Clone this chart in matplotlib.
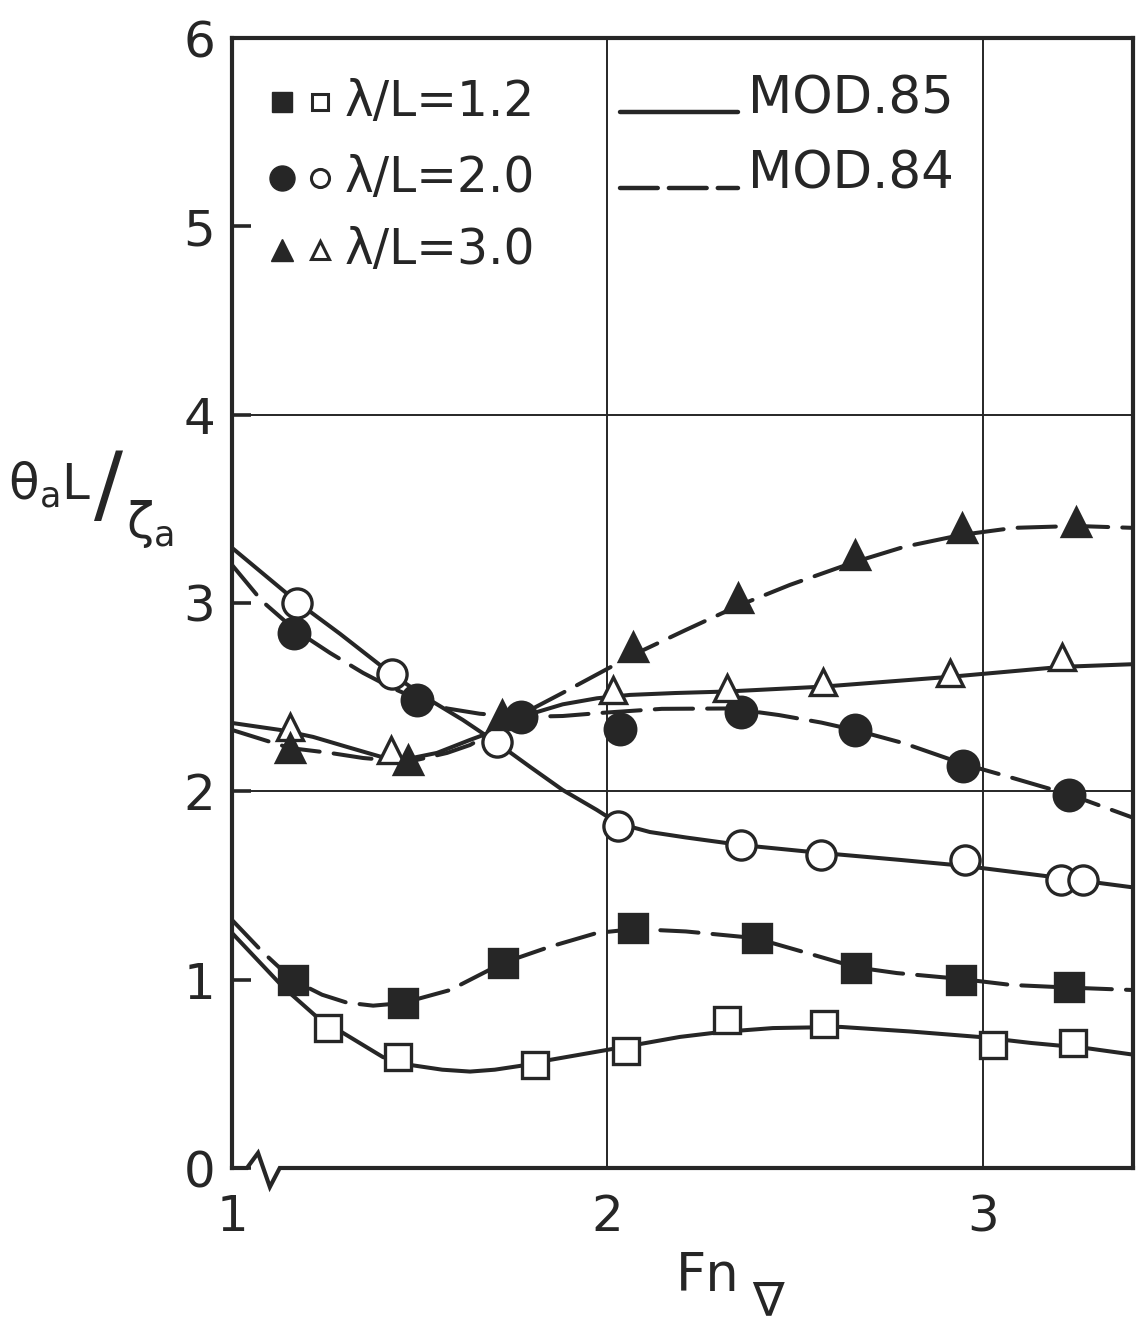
import numpy as np
import matplotlib
matplotlib.use('Agg')
from matplotlib import pyplot as plt

plt.rcParams['font.family'] = ['DejaVu Sans']
plt.rcParams['mathtext.fontset'] = 'dejavusans'

# ---- faired curves ----
# lambda/L = 1.2
c12_85_x = [1.0, 1.136, 1.226, 1.296, 1.402, 1.482, 1.560, 1.634, 1.700, 1.767, 1.847, 1.999, 2.193, 2.302, 2.441, 2.622, 2.806, 2.989, 3.128, 3.274, 3.40]
c12_85_y = [1.248, 0.961, 0.802, 0.717, 0.589, 0.545, 0.522, 0.512, 0.522, 0.542, 0.574, 0.627, 0.696, 0.722, 0.743, 0.749, 0.725, 0.696, 0.664, 0.637, 0.602]
c12_84_x = [1.0, 1.080, 1.162, 1.240, 1.306, 1.376, 1.455, 1.581, 1.722, 1.847, 1.972, 2.073, 2.209, 2.393, 2.531, 2.664, 2.771, 2.941, 3.075, 3.229, 3.40]
c12_84_y = [1.317, 1.150, 0.998, 0.920, 0.878, 0.862, 0.876, 0.945, 1.089, 1.175, 1.248, 1.269, 1.256, 1.221, 1.142, 1.065, 1.035, 1.004, 0.972, 0.958, 0.945]
# lambda/L = 2.0
c20_85_x = [1.0, 1.173, 1.288, 1.421, 1.527, 1.615, 1.706, 1.794, 1.881, 1.972, 2.028, 2.113, 2.209, 2.356, 2.569, 2.779, 2.952, 3.208, 3.40]
c20_85_y = [3.293, 3.006, 2.836, 2.629, 2.485, 2.379, 2.257, 2.130, 2.007, 1.901, 1.830, 1.784, 1.755, 1.715, 1.673, 1.636, 1.604, 1.540, 1.490]
c20_84_x = [1.0, 1.080, 1.168, 1.261, 1.349, 1.421, 1.487, 1.573, 1.660, 1.767, 1.881, 1.980, 2.145, 2.329, 2.457, 2.570, 2.670, 2.790, 2.949, 3.064, 3.234, 3.40]
c20_84_y = [3.202, 3.010, 2.857, 2.735, 2.629, 2.554, 2.496, 2.440, 2.412, 2.395, 2.400, 2.416, 2.438, 2.440, 2.405, 2.365, 2.320, 2.255, 2.145, 2.080, 1.981, 1.860]
# lambda/L = 3.0
c30_85_x = [1.0, 1.128, 1.216, 1.306, 1.394, 1.455, 1.546, 1.634, 1.706, 1.794, 1.881, 1.972, 2.060, 2.180, 2.318, 2.574, 2.912, 3.210, 3.40]
c30_85_y = [2.363, 2.326, 2.289, 2.236, 2.185, 2.167, 2.204, 2.273, 2.326, 2.410, 2.462, 2.494, 2.512, 2.522, 2.530, 2.556, 2.608, 2.661, 2.675]
c30_84_x = [1.0, 1.154, 1.261, 1.349, 1.469, 1.573, 1.634, 1.668, 1.719, 1.794, 1.881, 1.980, 2.068, 2.209, 2.348, 2.486, 2.659, 2.790, 2.944, 3.083, 3.248, 3.40]
c30_84_y = [2.326, 2.230, 2.204, 2.177, 2.156, 2.204, 2.246, 2.284, 2.337, 2.432, 2.523, 2.629, 2.724, 2.857, 2.985, 3.096, 3.218, 3.298, 3.362, 3.399, 3.409, 3.399]

# ---- measured points ----
p12_85_x = [1.256, 1.442, 1.807, 2.049, 2.318, 2.577, 3.027, 3.240]
p12_85_y = [0.743, 0.590, 0.547, 0.621, 0.786, 0.765, 0.653, 0.664]
p12_84_x = [1.162, 1.455, 1.722, 2.068, 2.398, 2.662, 2.941, 3.229]
p12_84_y = [0.998, 0.876, 1.089, 1.275, 1.221, 1.062, 0.998, 0.961]
p20_85_x = [1.173, 1.426, 1.706, 2.028, 2.356, 2.569, 2.952, 3.208, 3.266]
p20_85_y = [3.000, 2.623, 2.262, 1.816, 1.715, 1.662, 1.636, 1.529, 1.529]
p20_84_x = [1.165, 1.493, 1.770, 2.033, 2.356, 2.659, 2.947, 3.229]
p20_84_y = [2.841, 2.485, 2.395, 2.331, 2.422, 2.326, 2.135, 1.981]
p30_85_x = [1.154, 1.423, 2.015, 2.318, 2.574, 2.912, 3.210]
p30_85_y = [2.342, 2.220, 2.538, 2.549, 2.581, 2.629, 2.714]
p30_84_x = [1.154, 1.469, 1.719, 2.068, 2.348, 2.659, 2.944, 3.248]
p30_84_y = [2.230, 2.167, 2.406, 2.767, 3.027, 3.255, 3.399, 3.431]

legend_labels = ['λ/L=1.2', 'λ/L=2.0', 'λ/L=3.0']
model_labels = ['MOD.85', 'MOD.84']

ink = '#262626'
lw = 2.9
dash = (9.5, 3.5)

fig = plt.figure(figsize=(11.4, 13.29), dpi=100)
ax = fig.add_axes([232/1140, 1 - 1168/1329, 901/1140, 1130/1329])
ax.set_xlim(1, 3.4)
ax.set_ylim(0, 6)

# grid lines
for gx in [2, 3]:
    ax.axvline(gx, color=ink, lw=1.4, zorder=1)
for gy in [2, 4]:
    ax.axhline(gy, color=ink, lw=1.4, zorder=1)

# curves
ax.plot(c12_85_x, c12_85_y, color=ink, lw=lw, solid_capstyle='round', solid_joinstyle='round', zorder=2)
ax.plot(c20_85_x, c20_85_y, color=ink, lw=lw, solid_capstyle='round', solid_joinstyle='round', zorder=2)
ax.plot(c30_85_x, c30_85_y, color=ink, lw=lw, solid_capstyle='round', solid_joinstyle='round', zorder=2)
for cx, cy in [(c12_84_x, c12_84_y), (c20_84_x, c20_84_y), (c30_84_x, c30_84_y)]:
    ax.plot(cx, cy, color=ink, lw=lw, dashes=dash, dash_capstyle='round', zorder=2)

# markers
ms = dict(color=ink, ls='none', zorder=3, markeredgewidth=2.4)
ax.plot(p12_85_x, p12_85_y, marker='s', ms=19, mfc='white', mec=ink, **ms)
ax.plot(p12_84_x, p12_84_y, marker='s', ms=20, mfc=ink, mec=ink, **ms)
ax.plot(p20_85_x, p20_85_y, marker='o', ms=21, mfc='white', mec=ink, **ms)
ax.plot(p20_84_x, p20_84_y, marker='o', ms=22, mfc=ink, mec=ink, **ms)
ax.plot(p30_85_x, p30_85_y, marker='^', ms=19, mfc='white', mec=ink, **ms)
ax.plot(p30_84_x, p30_84_y, marker='^', ms=20, mfc=ink, mec=ink, **ms)

# frame
for s in ['top', 'right', 'left']:
    ax.spines[s].set_linewidth(3.0)
    ax.spines[s].set_color(ink)
ax.spines['bottom'].set_visible(False)
ax.plot([0, 0.0166, 0.0289, 0.042, 0.053, 1.0], [0, 0, 0.0133, -0.0168, 0, 0],
        transform=ax.transAxes, color=ink, lw=3.0, clip_on=False, zorder=4,
        solid_joinstyle='miter')

ax.set_xticks([1, 2, 3])
ax.set_xticklabels(['1', '2', '3'])
ax.set_yticks([0, 1, 2, 3, 4, 5, 6])
ax.set_yticklabels(['0', '1', '2', '3', '4', '5', '6'])
ax.tick_params(axis='x', length=0, pad=18, labelsize=36, labelcolor=ink)
ax.tick_params(axis='y', direction='in', length=14, width=2.6, color=ink,
               pad=12, labelsize=36, labelcolor=ink)

# legend (drawn by hand like the original)
rows_y = [0.9434, 0.876, 0.8124]
fill_m = ['s', 'o', '^']
fill_ms = [14, 18, 16]
open_ms = [12, 13, 13]
for yy, m, fm, om, lab in zip(rows_y, fill_m, fill_ms, open_ms, legend_labels):
    ax.plot([0.0555], [yy], marker=m, ms=fm, mfc=ink, mec=ink, ls='none',
            transform=ax.transAxes, clip_on=False)
    ax.plot([0.0977], [yy], marker=m, ms=om, mfc='white', mec=ink, mew=2.2,
            ls='none', transform=ax.transAxes, clip_on=False)
    ax.text(0.1254, yy, lab, transform=ax.transAxes, fontsize=35, color=ink,
            va='center', ha='left')

ax.plot([0.4306, 0.5616], [0.9345, 0.9345], transform=ax.transAxes, color=ink, lw=3.2,
        solid_capstyle='round')
ax.plot([0.4306, 0.5616], [0.867, 0.867], transform=ax.transAxes, color=ink, lw=3.2,
        dashes=(8.5, 2.5), dash_capstyle='round')
ax.text(0.5727, 0.946, model_labels[0], transform=ax.transAxes, fontsize=37, color=ink,
        va='center', ha='left')
ax.text(0.5727, 0.879, model_labels[1], transform=ax.transAxes, fontsize=37, color=ink,
        va='center', ha='left')

# axis labels (diagonal fraction  θa L / ζa)
def ftext(px, py, s, size, ha='center'):
    fig.text(px / 1140, 1 - py / 1329, s, fontsize=size, color=ink,
             ha=ha, va='center')

ftext(8, 485, r'$\mathrm{θ_a L}$', 36, ha='left')
ftext(109, 489, '/', 62)
ftext(126, 524, r'$\mathrm{ζ_a}$', 36, ha='left')

ftext(708, 1276, 'Fn', 38)
ftext(768, 1303, '∇', 34)

fig.savefig('out.png', dpi=100)
